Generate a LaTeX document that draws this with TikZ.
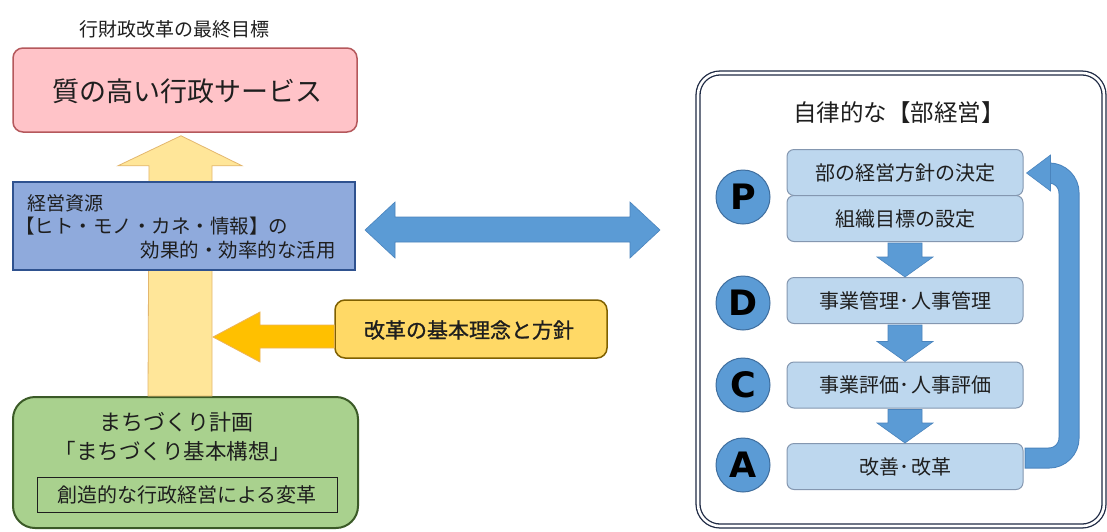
\documentclass[tikz,border=0pt]{standalone}
\usepackage{fontspec}
\setmainfont{Noto Sans CJK JP}
\newfontfamily\jpmed[FakeBold=1]{Noto Sans CJK JP}
\newfontfamily\latf{DejaVu Sans}
\usetikzlibrary{calc}
\definecolor{txt}{HTML}{1E1E1E}
\definecolor{pinkf}{HTML}{FFC3C8}
\definecolor{pinkd}{HTML}{B5585C}
\definecolor{bluef}{HTML}{8FAADC}
\definecolor{blued}{HTML}{2F528F}
\definecolor{ylwf}{HTML}{FFE699}
\definecolor{ylwd}{HTML}{E3B76E}
\definecolor{orgf}{HTML}{FFC000}
\definecolor{orgd}{HTML}{EDB45A}
\definecolor{boxo}{HTML}{FFD966}
\definecolor{boxod}{HTML}{7F6000}
\definecolor{grnf}{HTML}{A9D18E}
\definecolor{grnd}{HTML}{3B5A27}
\definecolor{arrb}{HTML}{5B9BD5}
\definecolor{arrbd}{HTML}{4A84BD}
\definecolor{stepf}{HTML}{BDD7EE}
\definecolor{stepd}{HTML}{8497B0}
\definecolor{circf}{HTML}{5B9BD5}
\definecolor{circd}{HTML}{3F6E9E}
\definecolor{framed}{HTML}{1F2A44}
\begin{document}
\begin{tikzpicture}[x=1pt,y=-1pt,
  fs/.style={font=\fontsize{#1}{#1}\selectfont},
  every node/.style={text=txt, inner sep=0pt},
  pinkbox/.style={draw=pinkd, fill=pinkf, line width=1.5pt, rounded corners=10pt},
  bluebox/.style={draw=blued, fill=bluef, line width=1.2pt},
  orgbox/.style={draw=boxod, fill=boxo, line width=1.5pt, rounded corners=10pt},
  grnbox/.style={draw=grnd, fill=grnf, line width=2pt, rounded corners=22pt},
  stepbox/.style={draw=stepd, fill=stepf, line width=1pt, rounded corners=7pt, minimum width=236pt, minimum height=46pt, fs=20},
  pdca/.style={circle, draw=circd, fill=circf, line width=1pt, minimum size=54pt, text=black, font=\latf\bfseries\fontsize{35}{35}\selectfont},
  blockarr/.style={fill=arrb, draw=arrbd, line width=0.6pt}
]
\useasboundingbox[fill=white] (0,0) rectangle (1107,531);

% ---------- left side ----------
\node[fs=19] (ttl) at (174,29) {行財政改革の最終目標};
\node[pinkbox, minimum width=344pt, minimum height=84pt] (goal) at (185,90) {};
\node[fs=27] (goaltxt) at (187,91) {質の高い行政サービス};

\node[grnbox, minimum width=345pt, minimum height=131pt] (plan) at (185.5,462.5) {};

% yellow up arrow (behind blue box)
\coordinate (ytip) at ($(goal.south)+(-4,3)$);
\filldraw[fill=ylwf, draw=ylwd, line width=0.8pt]
  ($(plan.north)+(-37.5,0)$) -- ($(ytip)+(-32,30)$) -- ($(ytip)+(-63,30)$) -- (ytip)
  -- ($(ytip)+(61,30)$) -- ($(ytip)+(31,30)$) -- ($(plan.north)+(26.5,0)$) -- cycle;

\node[bluebox, minimum width=342pt, minimum height=88pt] (res) at (184,226) {};
\node[fs=19, anchor=west] (res1) at (27,203) {経営資源};
\node[fs=19.5, anchor=west] (res2) at (15,226) {【ヒト・モノ・カネ・情報】の};
\node[fs=19.5, anchor=east] (res3) at (336,250) {効果的・効率的な活用};

\node[orgbox, minimum width=272pt, minimum height=58pt] (policy) at (471,329) {};
\node[font=\jpmed\fontsize{21}{21}\selectfont] (policytxt) at (469,330) {改革の基本理念と方針};

% orange left arrow
\coordinate (otip) at (213,337);
\filldraw[fill=orgf, draw=orgd, line width=0.8pt]
  (otip) -- ($(otip)+(47,-25)$) -- ($(otip)+(47,-12)$) -- ($(policy.west)+(0,-4)$)
  -- ($(policy.west)+(0,19)$) -- ($(otip)+(47,11)$) -- ($(otip)+(47,25)$) -- cycle;

\node[fs=22] (plan1) at (176,422) {まちづくり計画};
\node[fs=21.5] (plan2) at (173,451) {「まちづくり基本構想」};
\node[draw=txt, line width=0.8pt, minimum width=300pt, minimum height=35pt, fs=20] (plan3) at (187,494.5) {創造的な行政経営による変革};

% ---------- right side ----------
\node[draw=framed, line width=1.3pt, double=white, double distance=2.6pt, rounded corners=22pt,
      minimum width=406pt, minimum height=453pt] (frame) at (901,299.5) {};
\node[fs=23.5] (ftitle) at (899,113) {自律的な【部経営】};

\node[stepbox] (s1) at (905,172.5) {部の経営方針の決定};
\node[stepbox] (s2) at (905,218.5) {組織目標の設定};
\node[stepbox] (s3) at (905,300.5) {事業管理･\hspace{2pt}人事管理};
\node[stepbox] (s4) at (905,385) {事業評価･\hspace{2pt}人事評価};
\node[stepbox] (s5) at (905,466.5) {改善･\hspace{2pt}改革};

\node[pdca] (cP) at (743,197) {P};
\node[pdca] (cD) at (743,303) {D};
\node[pdca] (cC) at (743,385) {C};
\node[pdca] (cA) at (743,465) {A};

% down block arrows
\foreach \a/\b in {s2/s3, s3/s4, s4/s5}{
  \filldraw[blockarr]
    ($(\a.south)+(-17,1)$) -- ($(\b.north)+(-17,-20)$) -- ($(\b.north)+(-28,-20)$) -- ($(\b.north)+(0,0)$)
    -- ($(\b.north)+(28,-20)$) -- ($(\b.north)+(17,-20)$) -- ($(\a.south)+(17,1)$) -- cycle;
}

% return arrow A -> P
\coordinate (rs) at ($(s5.east)+(1,-8.5)$);
\coordinate (rtip) at ($(s1.east)+(3,0.5)$);
\draw[arrbd, line width=21pt, rounded corners=20pt] (rs) -- (1069,458) -- (1069,173) -- ($(rtip)+(22,0)$);
\draw[arrb, line width=19pt, rounded corners=20pt] ($(rs)+(1,0)$) -- (1069,458) -- (1069,173) -- ($(rtip)+(23,0)$);
\filldraw[blockarr] (rtip) -- ($(rtip)+(24,-18)$) -- ($(rtip)+(24,18)$) -- cycle;

% double arrow
\coordinate (dl) at (365,230);
\coordinate (dr) at (660,230);
\filldraw[blockarr]
  (dl) -- ($(dl)+(30,-28)$) -- ($(dl)+(30,-13)$) -- ($(dr)+(-30,-13)$) -- ($(dr)+(-30,-28)$) -- (dr)
  -- ($(dr)+(-30,28)$) -- ($(dr)+(-30,12)$) -- ($(dl)+(30,12)$) -- ($(dl)+(30,28)$) -- cycle;
\end{tikzpicture}
\end{document}
